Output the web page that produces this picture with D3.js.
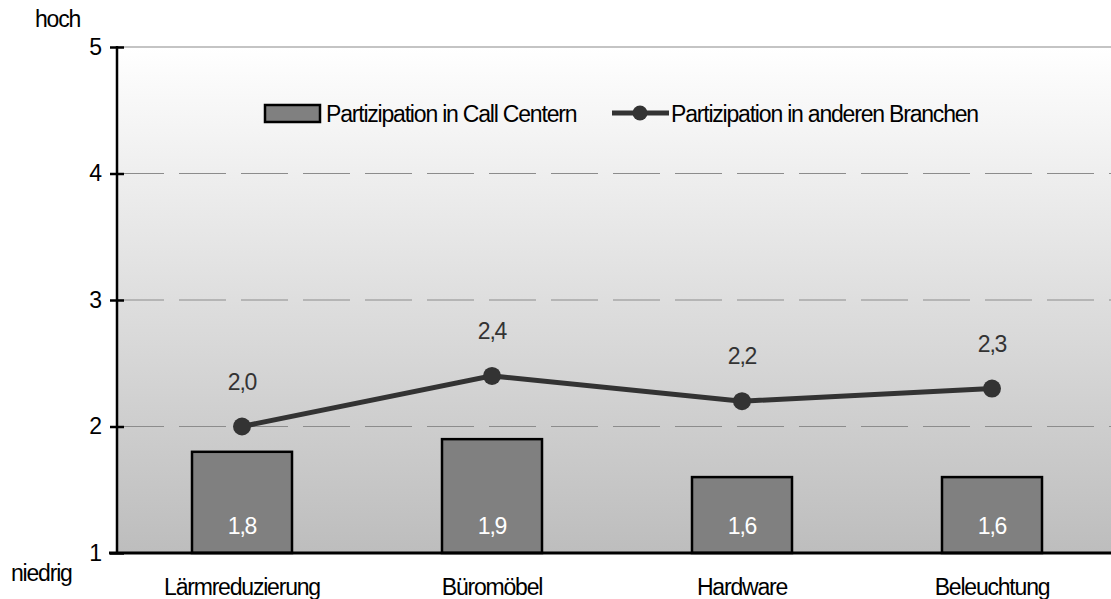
<!DOCTYPE html>
<html><head><meta charset="utf-8">
<script src="https://cdn.jsdelivr.net/npm/d3@7"></script>
<style>
body{margin:0;background:#fff;}
text{font-family:"Liberation Sans",Arial,sans-serif;}
</style></head>
<body><svg id="c" width="1111" height="599"></svg>
<script>
const categories = ["Lärmreduzierung","Büromöbel","Hardware","Beleuchtung"];
const callCenter = [1.8,1.9,1.6,1.6];
const otherBranches = [2.0,2.4,2.2,2.3];
const yTicks = [1,2,3,4,5];
const seriesNames = ["Partizipation in Call Centern","Partizipation in anderen Branchen"];
const fmt = v => d3.format(".1f")(v).replace(".", ",");
const FS = 23, LS = -1.2;

const svg = d3.select("#c");
const pLeft = 117, pRight = 1117, pTop = 47, pBottom = 553;
const x = d3.scaleBand().domain(categories).range([pLeft, pRight]).paddingInner(0.6).paddingOuter(0.3);
const y = d3.scaleLinear().domain([1,5]).range([pBottom, pTop]);

const defs = svg.append("defs");
const grad = defs.append("linearGradient").attr("id","bg").attr("x1",0).attr("y1",0).attr("x2",0).attr("y2",1);
grad.append("stop").attr("offset","0%").attr("stop-color","#ffffff");
grad.append("stop").attr("offset","100%").attr("stop-color","#bdbdbd");

svg.append("rect").attr("x",pLeft).attr("y",y(5)).attr("width",pRight-pLeft).attr("height",y(1)-y(5)).attr("fill","url(#bg)");

// top line
svg.append("line").attr("x1",pLeft).attr("x2",pRight).attr("y1",y(5)).attr("y2",y(5)).attr("stroke","#c4c4c4").attr("stroke-width",2);

// dashed gridlines
svg.selectAll("line.grid").data(yTicks.filter(t=>t>1&&t<5)).enter().append("line")
  .attr("class","grid").attr("x1",pLeft).attr("x2",pRight)
  .attr("y1",d=>y(d)).attr("y2",d=>y(d))
  .attr("stroke","#8c8c8c").attr("stroke-width",1).attr("stroke-dasharray","47,15");

// bars
svg.selectAll("rect.bar").data(callCenter).enter().append("rect").attr("class","bar")
  .attr("x",(d,i)=>x(categories[i])).attr("width",x.bandwidth())
  .attr("y",d=>y(d)).attr("height",d=>y(1)-y(d))
  .attr("fill","#808080").attr("stroke","#000").attr("stroke-width",2.5);

svg.selectAll("text.barlab").data(callCenter).enter().append("text").attr("class","barlab")
  .attr("x",(d,i)=>x(categories[i])+x.bandwidth()/2).attr("y",y(1)-19)
  .attr("text-anchor","middle").attr("fill","#fff").attr("font-size",FS).attr("letter-spacing",LS)
  .text(d=>fmt(d));

// line
const cx = i => x(categories[i]) + x.bandwidth()/2;
svg.append("path").datum(otherBranches)
  .attr("d", d3.line().x((d,i)=>cx(i)).y(d=>y(d)))
  .attr("fill","none").attr("stroke","#333").attr("stroke-width",5);
svg.selectAll("circle.pt").data(otherBranches).enter().append("circle").attr("class","pt")
  .attr("cx",(d,i)=>cx(i)).attr("cy",d=>y(d)).attr("r",9).attr("fill","#333");
svg.selectAll("text.ptlab").data(otherBranches).enter().append("text").attr("class","ptlab")
  .attr("x",(d,i)=>cx(i)).attr("y",d=>y(d)-37)
  .attr("text-anchor","middle").attr("fill","#333").attr("font-size",FS).attr("letter-spacing",LS)
  .text(d=>fmt(d));

// y axis
const yAxis = svg.append("g").attr("transform",`translate(${pLeft},0)`)
  .call(d3.axisLeft(y).tickValues(yTicks).tickFormat(d3.format("d")).tickSize(0).tickPadding(15));
yAxis.select(".domain").remove();
yAxis.selectAll("text").attr("font-size",FS).attr("fill","#000").attr("font-family","Liberation Sans, Arial, sans-serif");
yAxis.selectAll(".tick").append("line").attr("x1",-7).attr("x2",7).attr("stroke","#000").attr("stroke-width",2.5);
svg.append("line").attr("x1",pLeft).attr("x2",pLeft).attr("y1",y(5)-1).attr("y2",y(1)).attr("stroke","#000").attr("stroke-width",2.5);

// x axis
const xAxis = svg.append("g").attr("transform",`translate(0,${pBottom})`)
  .call(d3.axisBottom(x).tickSize(0).tickPadding(26));
xAxis.select(".domain").remove();
xAxis.selectAll("text").attr("font-size",FS).attr("fill","#000").attr("letter-spacing",LS).attr("font-family","Liberation Sans, Arial, sans-serif");
svg.append("line").attr("x1",pLeft-8).attr("x2",pRight).attr("y1",y(1)).attr("y2",y(1)).attr("stroke","#000").attr("stroke-width",3);

// hoch / niedrig
svg.append("text").attr("x",35).attr("y",27).attr("font-size",FS).attr("letter-spacing",LS).attr("fill","#000").text("hoch");
svg.append("text").attr("x",11).attr("y",581).attr("font-size",FS).attr("letter-spacing",LS).attr("fill","#000").text("niedrig");

// legend
const lg = svg.append("g");
lg.append("rect").attr("x",265).attr("y",105).attr("width",55).attr("height",17).attr("fill","#808080").attr("stroke","#000").attr("stroke-width",2.5);
lg.append("text").attr("x",326).attr("y",122).attr("font-size",FS).attr("letter-spacing",LS).attr("fill","#000").text(seriesNames[0]);
lg.append("line").attr("x1",612).attr("x2",669).attr("y1",113).attr("y2",113).attr("stroke","#333").attr("stroke-width",5);
lg.append("circle").attr("cx",640).attr("cy",113).attr("r",7.5).attr("fill","#333");
lg.append("text").attr("x",671).attr("y",122).attr("font-size",FS).attr("letter-spacing",LS).attr("fill","#000").text(seriesNames[1]);
</script></body></html>
